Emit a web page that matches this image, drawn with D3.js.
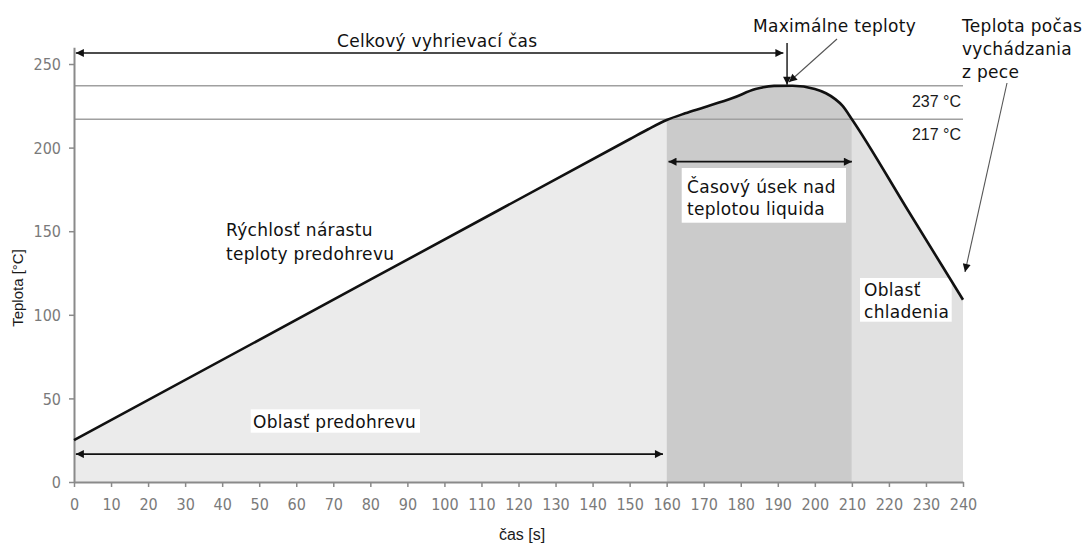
<!DOCTYPE html>
<html>
<head>
<meta charset="utf-8">
<script src="https://cdnjs.cloudflare.com/ajax/libs/d3/7.8.5/d3.min.js"></script>
<style>
	body { margin: 0; background: #fff; }
	.tick text { font-family: "Liberation Sans Narrow", "DejaVu Sans Condensed", sans-serif; font-size: 16px; fill: #7a7a7a; }
	.note { font-family: "DejaVu Sans", sans-serif; font-size: 17px; fill: #111; letter-spacing: 0.3px; }
	.small { font-family: "Liberation Sans", Arial, sans-serif; fill: #1a1a1a; }
</style>
</head>
<body>
<script>
//reflow soldering profile, drawn with d3
(function(){

	//profile points
	var timeS = [0, 80, 150, 155, 160, 165, 170, 178, 184, 189, 194, 200, 203, 205.5, 207.5, 210, 225, 240];
	var tempC = [25, 121, 205, 211, 216.5, 220.5, 224, 229.8, 235, 236.9, 237, 235, 232.5, 229, 225, 217, 163, 109];

	//zones under the curve
	var zoneStart = [0, 160, 210];
	var zoneEnd = [160, 210, 240];
	var zoneColor = ["#ebebeb", "#cbcbcb", "#e1e1e1"];

	//reference temperatures
	var refTemps = [237, 217];
	var refLabels = ["237 °C", "217 °C"];

	//axis ticks
	var xTicks = d3.range(0, 241, 10);
	var yTicks = [0, 50, 100, 150, 200, 250];

	var width = 1091,
		height = 543;

	window.onload = draw();

	function draw(){

		var svg = d3.select("body")
			.append("svg")
			.attr("width", width)
			.attr("height", height);

		var x = d3.scaleLinear().domain([0, 240]).range([74, 963]);
		var y = d3.scaleLinear().domain([0, 260]).range([482, 47.3]);

		var points = timeS.map(function(t, i){ return {t: t, v: tempC[i]}; });

		//arrow heads
		var defs = svg.append("defs");
		defs.append("marker")
			.attr("id", "head")
			.attr("viewBox", "0 0 10 10")
			.attr("refX", 10).attr("refY", 5)
			.attr("markerUnits", "userSpaceOnUse")
			.attr("markerWidth", 9).attr("markerHeight", 8)
			.attr("orient", "auto-start-reverse")
			.append("path")
			.attr("d", "M0,0L10,5L0,10z")
			.attr("fill", "#111");

		var area = d3.area()
			.x(function(d){ return x(d.t); })
			.y0(y(0))
			.y1(function(d){ return y(d.v); })
			.curve(d3.curveMonotoneX);

		var line = d3.line()
			.x(function(d){ return x(d.t); })
			.y(function(d){ return y(d.v); })
			.curve(d3.curveMonotoneX);

		defs.append("clipPath")
			.attr("id", "under")
			.append("path")
			.attr("d", area(points));

		//shaded zones, clipped to the area under the curve
		svg.append("g")
			.attr("clip-path", "url(#under)")
			.selectAll("rect")
			.data(zoneStart)
			.enter()
			.append("rect")
			.attr("x", function(d){ return x(d); })
			.attr("width", function(d, i){ return x(zoneEnd[i]) - x(d); })
			.attr("y", y(260))
			.attr("height", y(0) - y(260))
			.attr("fill", function(d, i){ return zoneColor[i]; });

		//reference lines
		svg.selectAll(".ref")
			.data(refTemps)
			.enter()
			.append("line")
			.attr("class", "ref")
			.attr("x1", x(0)).attr("x2", x(240))
			.attr("y1", function(d){ return y(d); })
			.attr("y2", function(d){ return y(d); })
			.attr("stroke", "#a0a0a0")
			.attr("stroke-width", 1.5);

		svg.selectAll(".refLabel")
			.data(refTemps)
			.enter()
			.append("text")
			.attr("class", "small")
			.attr("x", x(240) - 2)
			.attr("y", function(d){ return y(d) + 21; })
			.attr("text-anchor", "end")
			.style("font-size", "16px")
			.text(function(d, i){ return refLabels[i]; });

		//white boxes behind the zone labels
		var boxes = [[250.7, 409.3, 169.3, 23.4], [681.7, 168, 164.3, 54.7], [860, 278, 91.7, 43.7]];
		svg.selectAll(".box")
			.data(boxes)
			.enter()
			.append("rect")
			.attr("x", function(d){ return d[0]; })
			.attr("y", function(d){ return d[1]; })
			.attr("width", function(d){ return d[2]; })
			.attr("height", function(d){ return d[3]; })
			.attr("fill", "#fff");

		//axes
		var xAxis = svg.append("g")
			.attr("transform", "translate(0," + y(0) + ")")
			.call(d3.axisBottom(x).tickValues(xTicks).tickSizeInner(5).tickSizeOuter(0).tickPadding(12));
		var yAxis = svg.append("g")
			.attr("transform", "translate(" + x(0) + ",0)")
			.call(d3.axisLeft(y).tickValues(yTicks).tickSizeInner(5).tickSizeOuter(0).tickPadding(8));
		[xAxis, yAxis].forEach(function(a){
			a.select(".domain").attr("stroke", "#8a8a8a").attr("stroke-width", 2);
			a.selectAll(".tick line").attr("stroke", "#8a8a8a").attr("stroke-width", 1.5);
		});
		yAxis.selectAll(".tick text").attr("dy", "0.36em");

		//the profile itself
		svg.append("path")
			.attr("d", line(points))
			.attr("fill", "none")
			.attr("stroke", "#111")
			.attr("stroke-width", 2.6);

		//span arrows [from time, to time, temperature]
		var spans = [[0.5, 191.5, 256.6], [0.5, 159, 16.7], [160.5, 210, 191.6]];
		svg.selectAll(".span")
			.data(spans)
			.enter()
			.append("line")
			.attr("x1", function(d){ return x(d[0]); })
			.attr("x2", function(d){ return x(d[1]); })
			.attr("y1", function(d){ return y(d[2]); })
			.attr("y2", function(d){ return y(d[2]); })
			.attr("stroke", "#111")
			.attr("stroke-width", 1.6)
			.attr("marker-start", "url(#head)")
			.attr("marker-end", "url(#head)");

		//drop line onto the peak
		svg.append("line")
			.attr("x1", x(192.5)).attr("x2", x(192.5))
			.attr("y1", 43).attr("y2", y(237) - 1)
			.attr("stroke", "#111")
			.attr("stroke-width", 1.4)
			.attr("marker-end", "url(#head)");

		//thin pointers
		var pointers = [[837, 39, 789, 82], [1007, 83, 965, 272]];
		svg.selectAll(".ptr")
			.data(pointers)
			.enter()
			.append("line")
			.attr("x1", function(d){ return d[0]; })
			.attr("y1", function(d){ return d[1]; })
			.attr("x2", function(d){ return d[2]; })
			.attr("y2", function(d){ return d[3]; })
			.attr("stroke", "#555")
			.attr("stroke-width", 1.1)
			.attr("marker-end", "url(#head)");

		//annotation texts [text, x, baseline]
		var notes = [
			["Celkový vyhrievací čas", 337, 46.5],
			["Maximálne teploty", 753, 32],
			["Teplota počas", 962, 31.5],
			["vychádzania", 962, 54.5],
			["z pece", 962, 77.5],
			["Rýchlosť nárastu", 226, 236],
			["teploty predohrevu", 226, 260],
			["Oblasť predohrevu", 253, 428],
			["Časový úsek nad", 687, 193],
			["teplotou liquida", 687, 215],
			["Oblasť", 864, 296],
			["chladenia", 864, 318]
		];
		svg.selectAll(".note")
			.data(notes)
			.enter()
			.append("text")
			.attr("class", "note")
			.attr("x", function(d){ return d[1]; })
			.attr("y", function(d){ return d[2]; })
			.text(function(d){ return d[0]; });

		//axis titles
		svg.append("text")
			.attr("class", "small")
			.attr("transform", "translate(23,288) rotate(-90)")
			.attr("text-anchor", "middle")
			.style("font-size", "15px")
			.text("Teplota [°C]");

		svg.append("text")
			.attr("class", "small")
			.attr("x", 522)
			.attr("y", 540)
			.attr("text-anchor", "middle")
			.style("font-size", "16px")
			.text("čas [s]");
	};
})();
</script>
</body>
</html>
